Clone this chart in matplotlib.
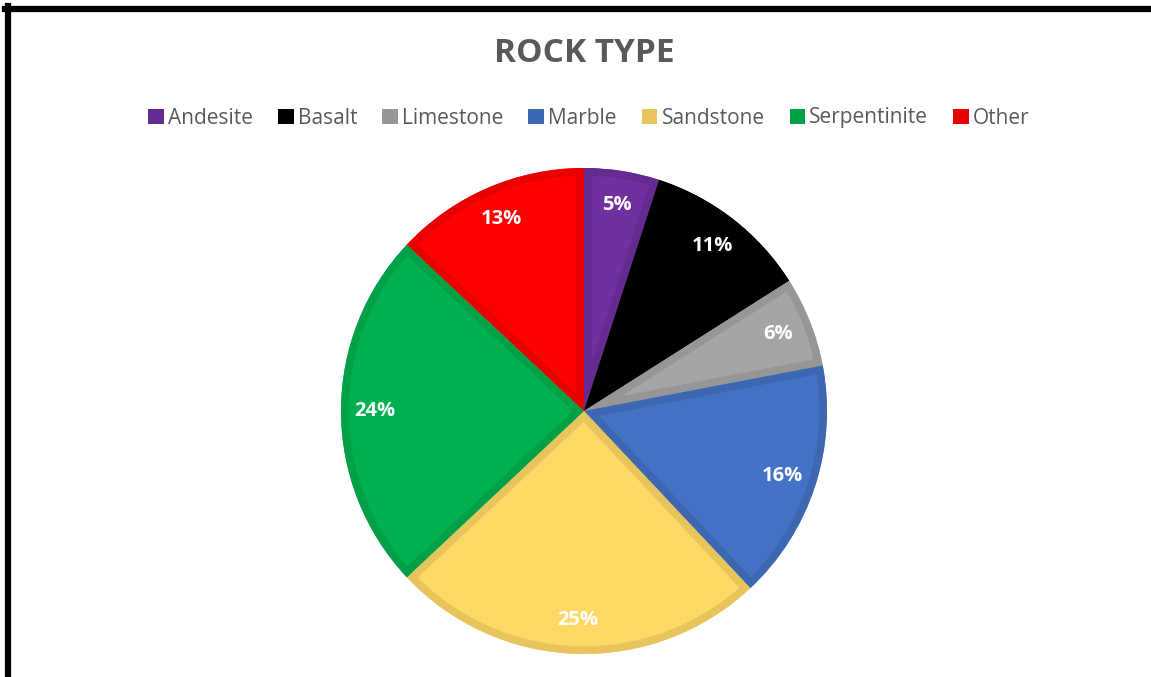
import matplotlib.pyplot as plt
from matplotlib.lines import Line2D
from matplotlib.patches import Patch, Wedge

rocks = ['Andesite', 'Basalt', 'Limestone', 'Marble', 'Sandstone', 'Serpentinite', 'Other']
shares = [5, 11, 6, 16, 25, 24, 13]
fills = ['#7030A0', '#000000', '#A5A5A5', '#4472C4', '#FFD966', '#00B050', '#FF0000']
edges = ['#652B91', '#000000', '#969696', '#3E67B2', '#E8C45C', '#00A049', '#E80000']

plt.rcParams['font.family'] = ['Open Sans', 'DejaVu Sans']

fig = plt.figure(figsize=(11.51, 6.77), dpi=100)

# pie area: centre (584, 411) px, radius about 243 px
ax = fig.add_axes([(584 - 243) / 1151, (677 - 411 - 243) / 677, 486 / 1151, 486 / 677])
wedges, texts, autotexts = ax.pie(shares, colors=fills, startangle=90, counterclock=False,
                                  autopct='%1.0f%%', pctdistance=0.86, radius=1,
                                  wedgeprops=dict(linewidth=0),
                                  textprops=dict(color='white', fontsize=14.5, fontweight='bold'))
ax.set_xlim(-1, 1)
ax.set_ylim(-1, 1)
ax.set_aspect('equal')

# darker border drawn on the inside of every slice
for w, ec in zip(wedges, edges):
    border = Wedge(w.center, w.r, w.theta1, w.theta2, facecolor='none',
                   edgecolor=ec, linewidth=11, zorder=w.get_zorder() + 0.5)
    ax.add_patch(border)
    border.set_clip_path(w.get_path(), w.get_transform())
for t in autotexts:
    t.set_zorder(5)

fig.text(584 / 1151, 1 - 53 / 677, 'ROCK TYPE', ha='center', va='center',
         fontsize=24, fontweight='bold', color='#595959')

handles = [Patch(facecolor=c, edgecolor='none') for c in edges]
fig.legend(handles, rocks, loc='center', bbox_to_anchor=(589 / 1151, 1 - 118 / 677),
           ncol=7, frameon=False, fontsize=15, labelcolor='#595959',
           handlelength=0.75, handleheight=0.75, handletextpad=0.2, columnspacing=1.2)

# black frame on top and left
fig.add_artist(Line2D([5 / 1151, 1], [1 - 9 / 677, 1 - 9 / 677], color='black', lw=4.5,
                      transform=fig.transFigure))
fig.add_artist(Line2D([8 / 1151, 8 / 1151], [0, 1 - 6 / 677], color='black', lw=4.5,
                      transform=fig.transFigure))

fig.savefig('out.png', dpi=100)
